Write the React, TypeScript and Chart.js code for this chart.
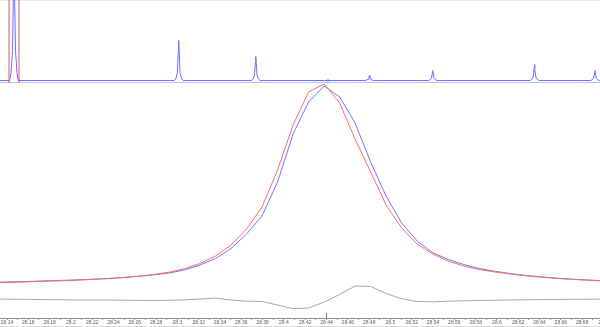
import React, { useEffect, useRef } from "react";
import { Chart, registerables } from "chart.js";

Chart.register(...registerables);

// ---- Overview pattern (top strip), 2θ in degrees ----
const overviewTwoTheta = [
  26.84, 27.95, 28.1, 28.27, 28.4, 28.44, 28.48, 28.61, 28.78, 28.93,
  46.8, 47.0, 47.15, 47.25, 47.3, 47.35, 47.45, 47.6, 47.8,
  55.62, 55.82, 55.97, 56.07, 56.12, 56.17, 56.27, 56.42, 56.62,
  68.63, 68.83, 68.98, 69.08, 69.13, 69.18, 69.28, 69.43, 69.63,
  75.88, 76.08, 76.23, 76.33, 76.38, 76.43, 76.53, 76.68, 76.88,
  87.53, 87.73, 87.88, 87.98, 88.03, 88.08, 88.18, 88.33, 88.53,
  94.45, 94.65, 94.8, 94.9, 94.95, 95.0, 95.1, 95.25, 95.45, 95.53,
];
const overviewCounts = [
  0, 0, 8, 30, 100, 140, 100, 30, 8, 0,
  0, 2.5, 8, 30, 40, 30, 8, 2.5, 0,
  0, 1.5, 5, 18, 24, 18, 5, 1.5, 0,
  0, 0.5, 1.2, 3.8, 5, 3.8, 1.2, 0.5, 0,
  0, 0.8, 2.2, 7.5, 10, 7.5, 2.2, 0.8, 0,
  0, 1.2, 3.5, 12, 16, 12, 3.5, 1.2, 0,
  0, 0.8, 2.2, 7.5, 10, 7.5, 2.2, 0.8, 0, 0,
];
const overviewRange = [26.837, 95.53];
const windowEdges = [27.87, 29.01];
const overviewMarker = 64.39;

// ---- Zoomed peak (main panel) ----
const zoomTwoTheta = [
  28.1319, 28.1465, 28.161, 28.1756, 28.1901, 28.2047, 28.2193, 28.2338, 28.2484, 28.2629,
  28.2775, 28.2921, 28.3066, 28.3212, 28.3358, 28.3503, 28.3649, 28.3794, 28.394, 28.4086,
  28.4231, 28.4377, 28.4523, 28.4668, 28.4814, 28.4959, 28.5105, 28.5251, 28.5396, 28.5542,
  28.5687, 28.5833, 28.5979, 28.6124, 28.627, 28.6416, 28.6561, 28.6707, 28.6852, 28.6998,
];
const redCounts = [
  1770, 1790, 1810, 1835, 1860, 1890, 1925, 1970, 2020, 2090,
  2175, 2290, 2460, 2725, 3100, 3650, 4450, 5550, 7400, 9650,
  11300, 11700, 10750, 8950, 7300, 5650, 4500, 3700, 3200, 2850,
  2600, 2425, 2300, 2200, 2110, 2040, 1980, 1930, 1890, 1855,
];
const blueCounts = [
  1790, 1810, 1830, 1855, 1880, 1905, 1935, 1975, 2020, 2080,
  2155, 2250, 2400, 2650, 2975, 3475, 4200, 5100, 6800, 9200,
  10800, 11600, 11050, 9750, 7800, 6100, 4750, 3850, 3275, 2925,
  2675, 2475, 2335, 2225, 2130, 2055, 1995, 1940, 1900, 1865,
];
const diffCounts = [
  950, 940, 930, 920, 910, 900, 900, 900, 890, 880,
  875, 885, 910, 950, 990, 900, 840, 825, 650, 465,
  500, 800, 1175, 1600, 1575, 1225, 960, 825, 810, 840,
  860, 875, 890, 900, 910, 920, 925, 935, 940, 950,
];
const zoomRange = [28.1334, 28.7005];
const zoomCountMax = 11750;
const tickStep = 0.01;
const zoomMarker = 28.44;

const pairs = (xs: number[], ys: number[]) => xs.map((x, i) => ({ x, y: ys[i] }));

export default function App() {
  const topRef = useRef<HTMLCanvasElement>(null);
  const botRef = useRef<HTMLCanvasElement>(null);

  useEffect(() => {
    document.body.style.margin = "0";
    const line = (data: any[], color: string, width = 1) => ({
      data,
      borderColor: color,
      backgroundColor: color,
      borderWidth: width,
      pointRadius: 0,
      tension: 0,
      fill: false,
    });

    const top = new Chart(topRef.current as HTMLCanvasElement, {
      type: "line",
      data: {
        datasets: [
          line([{ x: windowEdges[0], y: -3 }, { x: windowEdges[0], y: 81 }], "rgb(240,80,80)"),
          line([{ x: windowEdges[1], y: -3 }, { x: windowEdges[1], y: 81 }], "rgb(240,80,80)"),
          line(pairs(overviewTwoTheta, overviewCounts), "rgb(110,110,255)"),
          line([{ x: overviewMarker, y: -1.5 }, { x: overviewMarker, y: 1.5 }], "rgb(120,120,255)"),
          line([{ x: overviewRange[0], y: -2 }, { x: overviewRange[1], y: -2 }], "rgb(170,198,248)"),
          line([{ x: overviewRange[0], y: 80 }, { x: overviewRange[1], y: 80 }], "rgb(225,235,250)"),
        ],
      },
      options: {
        responsive: false,
        animation: false,
        devicePixelRatio: 1,
        events: [],
        layout: { padding: 0 },
        plugins: { legend: { display: false }, tooltip: { enabled: false } },
        scales: {
          x: { type: "linear", display: false, min: overviewRange[0], max: overviewRange[1] },
          y: { type: "linear", display: false, min: -2.5, max: 80.5 },
        },
      },
    });

    const bot = new Chart(botRef.current as HTMLCanvasElement, {
      type: "line",
      data: {
        datasets: [
          line(pairs(zoomTwoTheta, redCounts), "rgb(255,105,105)"),
          line(pairs(zoomTwoTheta, blueCounts), "rgb(115,115,255)"),
          line(pairs(zoomTwoTheta, diffCounts), "rgb(165,165,165)"),
          line([{ x: zoomMarker, y: 0 }, { x: zoomMarker, y: 260 }], "rgb(100,100,255)"),
        ],
      },
      options: {
        responsive: false,
        animation: false,
        devicePixelRatio: 1,
        events: [],
        layout: { padding: 0 },
        plugins: { legend: { display: false }, tooltip: { enabled: false } },
        scales: {
          x: {
            type: "linear",
            min: zoomRange[0],
            max: zoomRange[1],
            border: { display: true, color: "rgb(140,140,140)", width: 1 },
            grid: { display: true, drawOnChartArea: false, drawTicks: true, tickLength: 2, color: "rgb(150,150,150)" },
            ticks: {
              stepSize: tickStep,
              includeBounds: false,
              autoSkip: false,
              maxRotation: 0,
              minRotation: 0,
              padding: 0,
              color: "rgb(90,90,90)",
              font: { family: "'Liberation Sans', Arial, sans-serif", size: 5 },
              callback: (v: any) => {
                const n = Math.round(Number(v) * 100);
                return n % 2 === 0 ? String(n / 100) : "";
              },
            },
            afterFit: (s: any) => {
              s.paddingLeft = 0;
              s.paddingRight = 0;
              s.height = 9;
            },
          },
          y: { type: "linear", display: false, min: 0, max: zoomCountMax },
        },
      },
    });

    return () => {
      top.destroy();
      bot.destroy();
    };
  }, []);

  return (
    <div style={{ position: "fixed", left: 0, top: 0, width: 600, height: 327, overflow: "hidden", background: "#fff" }}>
      <canvas ref={topRef} width={600} height={83} style={{ position: "absolute", left: 0, top: 0, width: 600, height: 83 }} />
      <canvas ref={botRef} width={604} height={244} style={{ position: "absolute", left: 0, top: 83, width: 604, height: 244 }} />
      <div style={{ position: "absolute", left: 0, top: 326, width: 600, height: 1, background: "rgb(218,218,218)" }} />
    </div>
  );
}
